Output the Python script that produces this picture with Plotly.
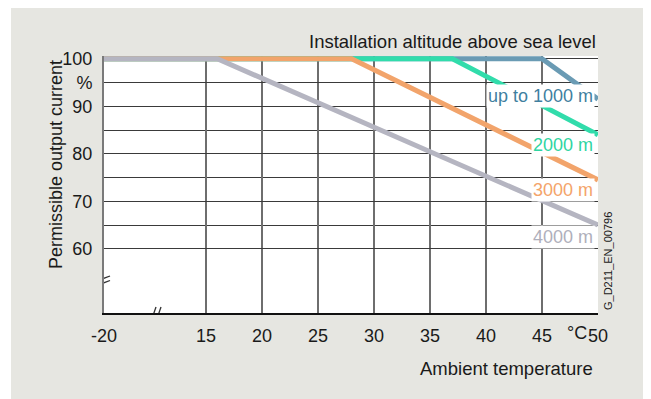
import plotly.graph_objects as go

# ---- data ----
altitudes = ["up to 1000 m", "2000 m", "3000 m", "4000 m"]
temps_1000 = [-20, 45, 50]
vals_1000 = [100, 100, 91.5]
temps_2000 = [-20, 37, 50]
vals_2000 = [100, 100, 84]
temps_3000 = [-20, 28, 50]
vals_3000 = [100, 100, 74.5]
temps_4000 = [-20, 16, 50]
vals_4000 = [100, 100, 65]
x_tick_values = [-20, 15, 20, 25, 30, 35, 40, 45, 50]
x_tick_labels = ["-20", "15", "20", "25", "30", "35", "40", "45", "50"]
y_tick_values = [60, 70, 80, 90, 95, 100]
y_tick_labels = ["60", "70", "80", "90", "%", "100"]
y_minor_values = [65, 75, 85]
label_values = [92.1, 81.8, 72.3, 62.5]

# ---- styling / layout (screen pixel targets; page body has an 8px margin) ----
OFF = 8
SW, SH = 651, 399
W, H = SW - OFF, SH - OFF
SL, SR, ST, SB = 104, 598, 56, 313          # plot area on screen
L, R, T, B = SL - OFF, SR - OFF, ST - OFF, SB - OFF
X_BREAK = 5.89          # axis position where "-20" is drawn (broken axis)
X_MAX = 50
Y_MIN, Y_MAX = 46.5, 100.57
FONT = "Liberation Sans, Arial, sans-serif"
colors = ["#6a9bb4", "#31dcab", "#f2a46b", "#b5b5c1"]
text_colors = ["#3f7f9f", "#2fd5a2", "#f4a46a", "#afafbb"]


def to_axis(t):
    return t if t >= 15 else X_BREAK


def px2x(px):
    return X_BREAK + (px - SL) * (X_MAX - X_BREAK) / (SR - SL)


def py2y(py):
    return Y_MAX - (py - ST) * (Y_MAX - Y_MIN) / (SB - ST)


def px2paper(px):
    return (px - SL) / (SR - SL)


def py2paper(py):
    return (SB - py) / (SB - ST)


series = [
    (temps_1000, vals_1000),
    (temps_2000, vals_2000),
    (temps_3000, vals_3000),
    (temps_4000, vals_4000),
]

fig = go.Figure()
for (ts, vs), c, name in zip(series, colors, altitudes):
    fig.add_trace(go.Scatter(
        x=[to_axis(t) for t in ts], y=vs, mode="lines",
        line=dict(color=c, width=5), name=name, hoverinfo="skip",
    ))

annotations = []
for name, yv, tc in zip(altitudes, label_values, text_colors):
    annotations.append(dict(
        x=X_MAX, y=yv, xref="x", yref="y", text=name, showarrow=False,
        xanchor="right", yanchor="middle", xshift=-3,
        font=dict(family=FONT, size=18, color=tc),
        bgcolor="white", borderpad=1,
    ))

annotations += [
    dict(x=px2paper(598), y=py2paper(41), xref="paper", yref="paper",
         text="Installation altitude above sea level", showarrow=False,
         xanchor="right", yanchor="middle",
         font=dict(family=FONT, size=18.5, color="#1a1a1a")),
    dict(x=px2paper(595), y=py2paper(368), xref="paper", yref="paper",
         text="Ambient temperature", showarrow=False,
         xanchor="right", yanchor="middle",
         font=dict(family=FONT, size=18.5, color="#1a1a1a")),
    dict(x=px2paper(56), y=py2paper(165), xref="paper", yref="paper",
         text="Permissible output current", showarrow=False, textangle=-90,
         xanchor="center", yanchor="middle",
         font=dict(family=FONT, size=18, color="#1a1a1a")),
    dict(x=px2x(577), y=py2paper(333), xref="x", yref="paper",
         text="°C", showarrow=False, xanchor="center", yanchor="middle",
         font=dict(family=FONT, size=18, color="#1a1a1a")),
    dict(x=px2paper(608), y=py2paper(261), xref="paper", yref="paper",
         text="G_D211_EN_00796", showarrow=False, textangle=-90,
         xanchor="center", yanchor="middle",
         font=dict(family=FONT, size=11, color="#1a1a1a")),
]

shapes = [
    # white outer margin on the left (page margin supplies the rest)
    dict(type="rect", xref="paper", yref="paper", layer="below",
         x0=px2paper(0), x1=px2paper(11), y0=py2paper(SH + 20), y1=py2paper(0),
         fillcolor="white", line=dict(width=0)),
    # y-axis break marks
    dict(type="line", xref="x", yref="y", x0=px2x(98), y0=py2y(280.5),
         x1=px2x(110), y1=py2y(276), line=dict(color="#333", width=1.3)),
    dict(type="line", xref="x", yref="y", x0=px2x(98), y0=py2y(285),
         x1=px2x(110), y1=py2y(280.5), line=dict(color="#333", width=1.3)),
    # x-axis break marks
    dict(type="line", xref="x", yref="y", x0=px2x(151.5), y0=py2y(320),
         x1=px2x(156), y1=py2y(307), line=dict(color="#333", width=1.3)),
    dict(type="line", xref="x", yref="y", x0=px2x(156.5), y0=py2y(320),
         x1=px2x(161), y1=py2y(307), line=dict(color="#333", width=1.3)),
]

fig.update_layout(
    width=W, height=H,
    margin=dict(l=L, r=W - R, t=T, b=H - B, pad=0),
    paper_bgcolor="#e6e6e1", plot_bgcolor="white",
    showlegend=False,
    font=dict(family=FONT, size=18, color="#1a1a1a"),
    annotations=annotations, shapes=shapes,
    xaxis=dict(
        range=[X_BREAK, X_MAX],
        tickvals=[to_axis(t) for t in x_tick_values], ticktext=x_tick_labels,
        ticks="outside", ticklen=6, tickcolor="rgba(0,0,0,0)",
        tickfont=dict(family=FONT, size=18, color="#1a1a1a"),
        showgrid=True, gridcolor="#6e6e6e", gridwidth=2,
        showline=True, linecolor="#111", linewidth=1.5,
        zeroline=False, fixedrange=True,
    ),
    yaxis=dict(
        range=[Y_MIN, Y_MAX],
        tickvals=y_tick_values, ticktext=y_tick_labels,
        ticks="outside", ticklen=6, tickcolor="rgba(0,0,0,0)",
        tickfont=dict(family=FONT, size=18, color="#1a1a1a"),
        showgrid=True, gridcolor="#3a3a3a", gridwidth=1.3,
        minor=dict(tickvals=y_minor_values, showgrid=True,
                   gridcolor="#3a3a3a", gridwidth=1.3, ticks=""),
        showline=True, linecolor="#7a7a7a", linewidth=2,
        zeroline=False, fixedrange=True,
    ),
)

fig.write_html("out.html")
